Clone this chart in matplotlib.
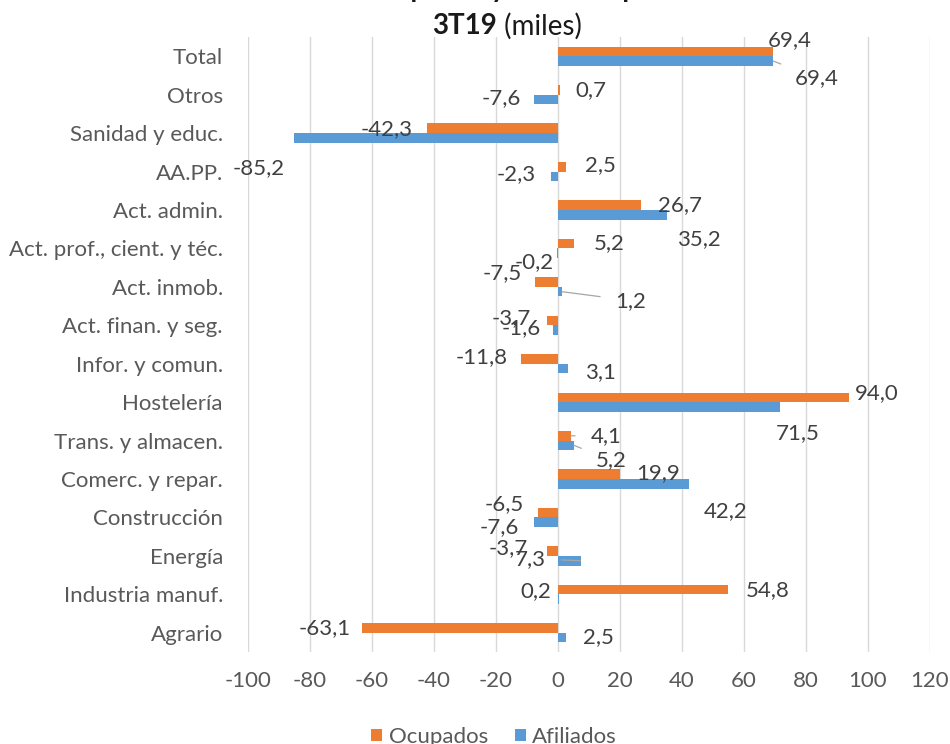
import numpy as np
import matplotlib
matplotlib.use("Agg")
import matplotlib.pyplot as plt

plt.rcParams['font.family'] = ['Lato', 'DejaVu Sans']

sectores = ['Total', 'Otros', 'Sanidad y educ.', 'AA.PP.', 'Act. admin.',
            'Act. prof., cient. y téc.', 'Act. inmob.', 'Act. finan. y seg.',
            'Infor. y comun.', 'Hostelería', 'Trans. y almacen.',
            'Comerc. y repar.', 'Construcción', 'Energía', 'Industria manuf.',
            'Agrario']
ocupados = [69.4, 0.7, -42.3, 2.5, 26.7, 5.2, -7.5, -3.7, -11.8, 94.0, 4.1,
            19.9, -6.5, -3.7, 54.8, -63.1]
afiliados = [69.4, -7.6, -85.2, -2.3, 35.2, -0.2, 1.2, -1.6, 3.1, 71.5, 5.2,
             42.2, -7.6, 7.3, 0.2, 2.5]
xticks = list(range(-100, 121, 20))

# label offsets (pixels from the bar end), and which ones get a leader line
off_ocu = [(17, 11), (31, 0), (-40, -1), (35, 2), (39, 0), (35, 1), (-33, 9),
           (-35, 2), (-40, 2), (27, 4), (35, 0), (38, 1), (-34, 9), (-38, 3),
           (40, -1), (-38, 0)]
off_afi = [(44, -17), (-33, 1), (-35, -30), (-35, 2), (32, -24), (-23, -9),
           (69, -9), (-32, 2), (33, -4), (18, -26), (37, -15), (37, -27),
           (-35, -5), (-50, 2), (-23, 8), (33, 0)]
lead_ocu = [10]
lead_afi = [0, 6, 10, 13]

c_ocu = '#ED7D31'
c_afi = '#5B9BD5'
txt = '#404040'
fs = 16

fig = plt.figure(figsize=(9.5, 7.44), dpi=100)
ax = fig.add_axes([248/950, 1 - 652/744, (930-248)/950, (652-37)/744])

y = np.arange(len(sectores))
h = 0.25
b1 = ax.barh(y - h/2, ocupados, h, color=c_ocu, label='Ocupados')
b2 = ax.barh(y + h/2, afiliados, h, color=c_afi, label='Afiliados')

ax.set_xlim(-100, 120)
ax.set_ylim(len(sectores) - 0.5, -0.5)
ax.set_xticks(xticks)
ax.set_xticklabels([str(t) for t in xticks])
ax.set_yticks(y)
ax.set_yticklabels(sectores)
ax.tick_params(axis='both', length=0, labelsize=fs, colors='#595959')
ax.tick_params(axis='y', pad=18)
ax.tick_params(axis='x', pad=14)
for s in ax.spines.values():
    s.set_visible(False)
ax.grid(axis='x', color='#D9D9D9', lw=1)
ax.set_axisbelow(True)


def etiquetas(bars, vals, offs, leaders):
    for i, (r, v) in enumerate(zip(bars, vals)):
        ye = r.get_y() + r.get_height()/2
        props = None
        if i in leaders:
            props = dict(arrowstyle='-', color='#A6A6A6', lw=0.9,
                         shrinkA=9, shrinkB=0)
        ax.annotate(f'{v:.1f}'.replace('.', ','), xy=(v, ye),
                    xytext=offs[i], textcoords='offset pixels',
                    ha='center', va='center', fontsize=fs, color=txt,
                    arrowprops=props)


etiquetas(b1, ocupados, off_ocu, lead_ocu)
etiquetas(b2, afiliados, off_afi, lead_afi)

# title (first line cut by the top of the image)
fig.text(359/950, 1 + 3/744, 'Ocupados y afiliados por sectores', ha='left',
         va='baseline', fontsize=20, fontweight='bold', color='#1a1a1a')
fig.text(497/950, 1 - 26/744, '3T19', ha='right', va='center', fontsize=20,
         fontweight='bold', color='#1a1a1a')
fig.text(497/950, 1 - 26/744, ' (miles)', ha='left', va='center',
         fontsize=20, color='#1a1a1a')

fig.legend(handles=[b1, b2], loc='center', bbox_to_anchor=(0.52, 1 - 737/744),
           ncol=2, frameon=False, fontsize=fs, handlelength=0.5,
           handleheight=0.5, handletextpad=0.3, columnspacing=1.2,
           labelcolor='#595959')

fig.savefig('out.png', dpi=100)
